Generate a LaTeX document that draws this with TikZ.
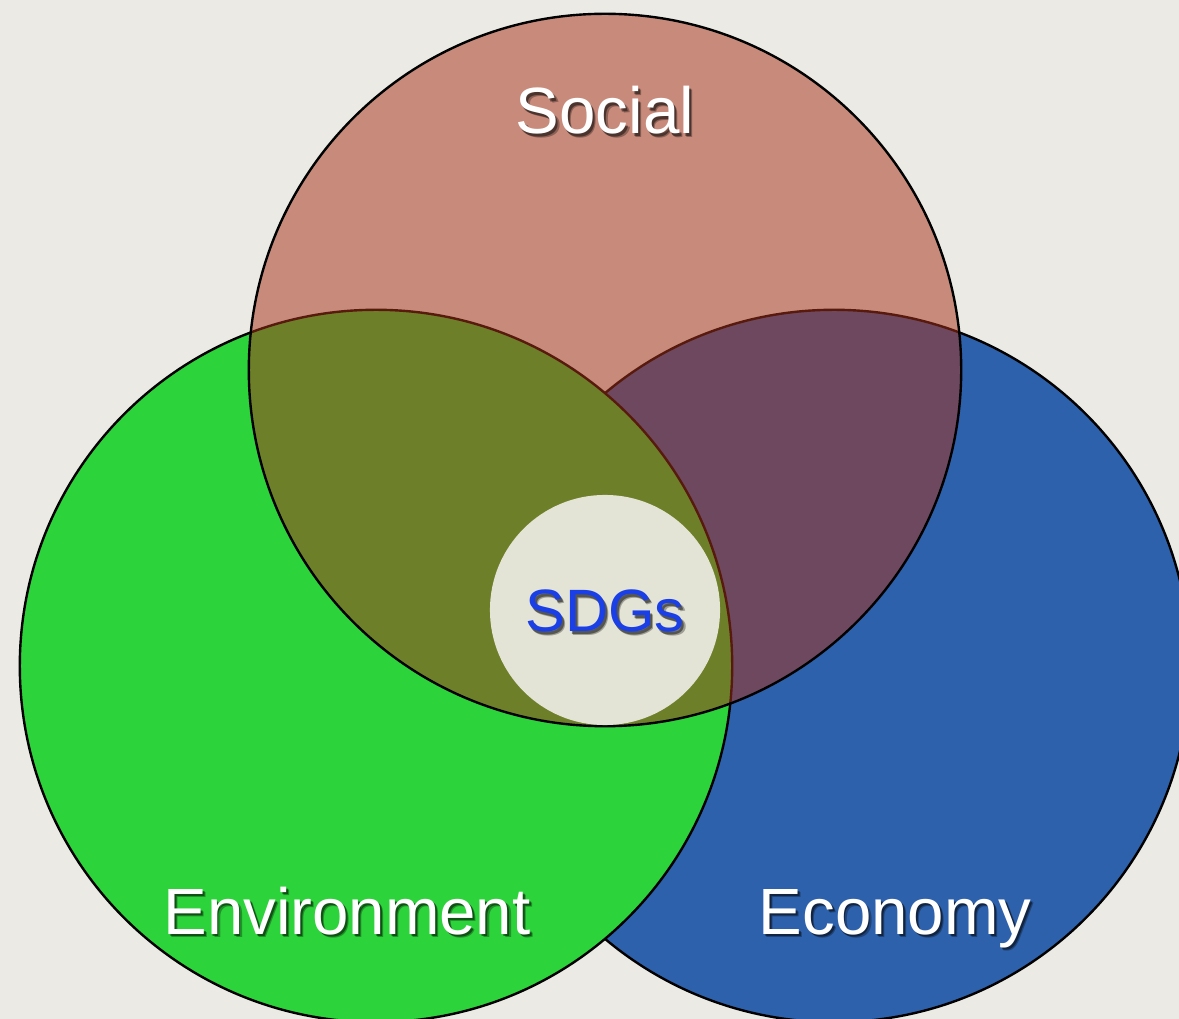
\documentclass[tikz,border=0pt]{standalone}
\usepackage{fontspec}
\setmainfont{Liberation Sans}
\usepackage{tikz}
\usetikzlibrary{backgrounds}
\usepackage{xcolor}
\definecolor{paper}{HTML}{EBEAE4}
\definecolor{social}{RGB}{169,50,25}
\definecolor{envir}{HTML}{2CD33A}
\definecolor{econ}{HTML}{2D61AC}
\definecolor{goals}{HTML}{E3E3D6}
\definecolor{goaltext}{HTML}{1A3FE6}

\begin{document}
\begin{tikzpicture}[x=0.01cm,y=-0.01cm,
		%Option for the circles%
		ring/.style={draw=black,line width=0.68pt},%
		label txt/.style={anchor=base,text=white,font=\fontsize{18.6}{20}\selectfont},%
		label shade/.style={anchor=base,text=black,text opacity=0.3,font=\fontsize{18.6}{20}\selectfont,xshift=0.9pt,yshift=-1.1pt},%
		label core/.style={anchor=base,text=black,text opacity=0.45,font=\fontsize{18.6}{20}\selectfont,xshift=0.55pt,yshift=-0.7pt}%
		]
		%% some definitions
		\def\R{3.56cm}    % big circle radius
		\def\r{1.15cm}    % sdg circle radius
		%% centres
		\coordinate (S) at (605,370);
		\coordinate (G) at (376,666);
		\coordinate (B) at (834,666);
		\coordinate (C) at (605,610);
		%
	\useasboundingbox (0,0) rectangle (1179,1019);
	\clip (0,0) rectangle (1179,1019);
	\fill[paper] (0,0) rectangle (1179,1019);
	
	%% the three pillars
	\fill[econ,ring] (B) circle (\R);
	\fill[envir,ring] (G) circle (\R);
	\draw[ring,fill=social,fill opacity=0.52] (S) circle (\R);
	
	%% the goals in the middle
	\fill[goals] (C) circle (\r);
	
	%% labels (with a soft drop shadow)
	\foreach \pos/\txt in {{(605,134)}/Social,{(347,934)}/Environment,{(895,934)}/Economy}
	{
		\node[label shade] at \pos {\txt};
		\node[label core] at \pos {\txt};
	}
	\node[label txt] (social) at (605,134) {Social};
	\node[label txt] (envir) at (347,934) {Environment};
	\node[label txt] (econ) at (895,934) {Economy};
	\node[label shade,font=\fontsize{17}{19}\selectfont] at (605,632) {SDGs};
	\node[label core,font=\fontsize{17}{19}\selectfont] at (605,632) {SDGs};
	\node[label txt,text=goaltext,font=\fontsize{17}{19}\selectfont] (sdgs) at (605,632) {SDGs};

	\end{tikzpicture}
\end{document}
